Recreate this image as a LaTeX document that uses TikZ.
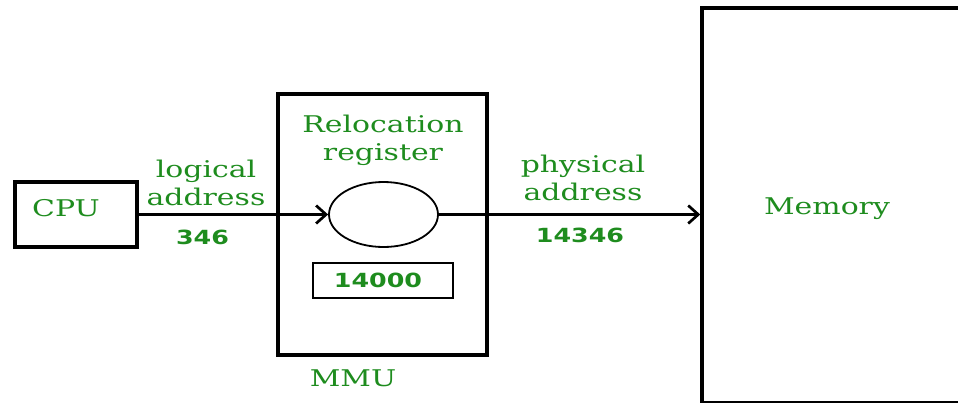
\documentclass[tikz,border=0pt]{standalone}
\usepackage{fontspec}
\setmainfont{DejaVu Serif}
\newfontfamily\numfont{DejaVu Sans}
\usepackage{graphicx}
\usetikzlibrary{shapes.geometric,arrows.meta}
\definecolor{gfg}{RGB}{30,140,30}
\newcommand{\wide}[1]{\scalebox{1.3}[1]{#1}}
\begin{document}
\begin{tikzpicture}[x=1pt,y=-1pt,
  box/.style={draw, line width=3.5pt, rectangle, inner sep=0pt},
  lbl/.style={text=gfg, font=\fontsize{23}{28}\selectfont, inner sep=0pt, align=center},
  num/.style={text=gfg, font=\numfont\bfseries\fontsize{19.5}{22}\selectfont, inner sep=0pt},
  arr/.style={line width=2.7pt, -{Straight Barb[length=10pt,width=18pt,line width=2.7pt]}}]
\useasboundingbox (0,0) rectangle (958,402);
\clip (0,0) rectangle (958,402);
% boxes
\node[box, minimum width=122pt, minimum height=65pt] (cpu) at (76,214.5) {};
\node[box, minimum width=209pt, minimum height=261pt] (mmu) at (382.5,224.5) {};
\node[draw, ellipse, line width=1.8pt, minimum width=109pt, minimum height=65pt, inner sep=0pt] (circ) at (383.5,214.5) {};
\node[draw, rectangle, line width=2.3pt, minimum width=140pt, minimum height=35pt, inner sep=0pt] (reg) at (383,280.5) {};
\node[box, minimum width=298pt, minimum height=395pt] (mem) at (851,205.5) {};
% texts
\node[lbl] (cputxt) at (66,208) {\wide{CPU}};
\node[lbl] (logtxt) at (206,183) {\wide{logical}\\\wide{address}};
\node[num] (n346) at (202.5,237.5) {\wide{346}};
\node[lbl] (reltxt) at (383,140) {\wide{Relocation}\\\wide{register}};
\node[num] (n14000) at (378,280) {\wide{14000}};
\node[lbl] (mmutxt) at (353,378) {\wide{MMU}};
\node[lbl] (phytxt) at (583,178) {\wide{physical}\\\wide{address}};
\node[num] (n14346) at (580,235) {\wide{14346}};
\node[lbl] (memtxt) at (827,209) {\wide{Memory}};
% connectors
\draw[arr] (cpu.east |- circ.west) -- (circ.west);
\draw[arr] (circ.east) -- (circ.east -| mem.west);
\end{tikzpicture}
\end{document}
